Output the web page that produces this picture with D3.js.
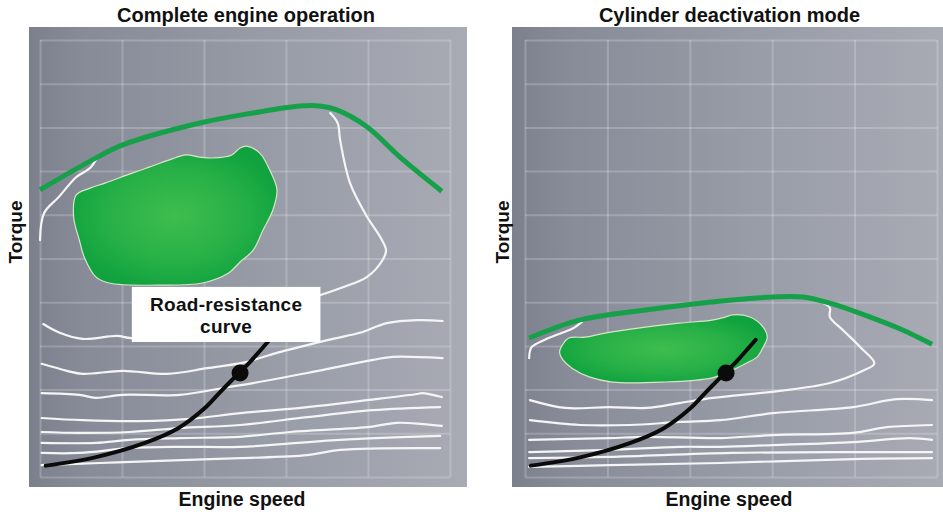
<!DOCTYPE html>
<html><head><meta charset="utf-8">
<script src="https://cdn.jsdelivr.net/npm/d3@7"></script>
<style>body{margin:0;background:#fff}svg{display:block}</style>
</head><body><svg id="c" width="943" height="512"></svg>
<script>
// ---------- data (engine speed in grid units 0-5, torque in grid units 0-10) ----------
const speedTicks = [0, 1, 2, 3, 4, 5];
const torqueTicks = [0, 1, 2, 3, 4, 5, 6, 7, 8, 9, 10];
const panelTitles = ["Complete engine operation", "Cylinder deactivation mode"];
const xLabel = "Engine speed";
const yLabel = "Torque";
const boxLabel = ["Road-resistance", "curve"];

// full-load torque curves (green)
const fullLoadAll = [[0,6.57],[0.70,7.32],[1.01,7.60],[1.95,8.10],[2.6,8.33],[3.17,8.49],[3.41,8.49],[3.62,8.40],[3.99,8.01],[4.39,7.32],[4.90,6.54]];
const fullLoadCDA = [[0.05,3.18],[0.66,3.59],[1.46,3.82],[2.51,4.05],[3.01,4.12],[3.37,4.12],[3.70,3.98],[4.19,3.66],[4.59,3.36],[4.94,3.04]];

// best-efficiency islands (green areas)
const islandAll = [[0.44,6.45],[0.61,6.61],[0.80,6.73],[1.09,6.93],[1.33,7.09],[1.57,7.25],[1.78,7.37],[1.95,7.32],[2.10,7.30],[2.34,7.37],[2.44,7.53],[2.52,7.57],[2.68,7.41],[2.80,7.03],[2.89,6.57],[2.84,6.11],[2.72,5.65],[2.60,5.19],[2.44,4.92],[2.30,4.67],[1.98,4.44],[1.49,4.39],[0.84,4.44],[0.68,4.58],[0.54,5.03],[0.48,5.42],[0.41,5.95]];
const islandCDA = [[0.42,2.86],[0.46,3.04],[0.53,3.18],[0.73,3.20],[0.91,3.27],[1.06,3.32],[1.46,3.43],[1.87,3.52],[2.27,3.59],[2.43,3.66],[2.52,3.71],[2.73,3.66],[2.89,3.43],[2.94,3.20],[2.89,2.97],[2.82,2.75],[2.69,2.61],[2.52,2.45],[2.27,2.27],[1.66,2.17],[1.06,2.17],[0.78,2.29],[0.57,2.49],[0.46,2.68]];

// consumption contours (white) - complete engine operation
const contourAllLeft = [[0,5.42],[0.05,6.04],[0.23,6.41],[0.44,6.86],[0.54,6.98],[0.62,7.09],[0.68,7.25]];
const contourAllMain = [[0.04,3.50],[0.24,3.30],[0.52,3.16],[0.94,3.23],[1.12,3.18],[2.32,3.59],[3.41,4.16],[3.66,4.32],[3.99,4.58],[4.18,4.97],[4.22,5.19],[4.15,5.49],[3.99,5.95],[3.78,6.73],[3.66,7.71],[3.63,8.10],[3.54,8.33]];
const contourAllB = [[0.02,2.59],[0.33,2.43],[0.52,2.36],[1.01,2.43],[1.55,2.36],[2.04,2.49],[2.51,2.63],[2.89,2.84],[3.57,3.16],[3.90,3.30],[4.23,3.52],[4.60,3.59],[4.91,3.57]];
const contourAllC = [[0.02,1.92],[0.48,1.88],[0.68,1.81],[1.00,1.88],[1.70,1.88],[2.30,2.06],[2.60,2.15],[3.26,2.38],[4.06,2.68],[4.30,2.75],[4.91,2.72]];
const contourAllD = [[0.02,1.35],[0.52,1.30],[1.22,1.28],[1.83,1.33],[2.44,1.46],[3.26,1.60],[3.99,1.76],[4.60,1.90],[4.66,1.92],[4.90,1.83]];
const contourAllE = [[0.02,1.03],[0.48,1.01],[1.09,1.03],[1.70,1.12],[2.44,1.19],[3.26,1.37],[4.06,1.53],[4.88,1.60]];
const contourAllF = [[0.02,0.78],[0.68,0.78],[1.09,0.85],[1.70,0.89],[2.44,0.92],[3.05,1.03],[3.99,1.14],[4.35,1.24],[4.67,1.21],[4.90,1.17]];
const contourAllG = [[0.02,0.55],[0.48,0.55],[1.09,0.66],[1.70,0.69],[2.44,0.69],[3.66,0.85],[4.88,0.94]];
const contourAllH = [[0.02,0.27],[0.73,0.32],[1.46,0.37],[2.44,0.43],[3.26,0.50],[3.66,0.62],[4.88,0.66]];

// consumption contours (white) - cylinder deactivation mode
const contourCDALeft = [[0.05,2.72],[0.08,2.97],[0.24,3.14],[0.45,3.30],[0.59,3.41],[0.69,3.55]];
const contourCDAMain = [[0.06,1.76],[0.49,1.58],[1.02,1.60],[1.48,1.58],[1.87,1.69],[2.28,1.81],[3.09,1.97],[3.70,2.15],[4.10,2.43],[4.24,2.60],[4.07,2.97],[3.86,3.36],[3.70,3.66],[3.70,3.87],[3.62,3.98]];
const contourCDAB = [[0.06,1.30],[0.67,1.19],[1.27,1.19],[1.88,1.26],[2.37,1.30],[3.01,1.46],[3.98,1.60],[4.51,1.78],[4.94,1.76]];
const contourCDAC = [[0.05,0.85],[1.02,0.89],[1.46,0.92],[2.37,0.89],[3.01,0.96],[3.98,1.01],[4.39,1.14],[4.94,1.19]];
const contourCDAD = [[0.05,0.57],[1.02,0.62],[1.88,0.69],[2.37,0.69],[3.01,0.73],[3.98,0.80],[4.67,0.89],[4.94,0.85]];
const contourCDAE = [[0.05,0.43],[1.02,0.46],[2.51,0.55],[3.98,0.57],[4.94,0.57]];
const contourCDAF = [[0.05,0.23],[1.02,0.27],[2.37,0.32],[3.98,0.41],[4.94,0.43]];

// road-resistance curve and operating point (same in both modes)
const roadLoad = [[0.07,0.26],[0.67,0.45],[1.28,0.78],[1.68,1.11],[2.00,1.56],[2.20,1.95],[2.40,2.33],[2.56,2.63],[2.80,3.14]];
const operatingPoint = [2.44, 2.38];

// ---------- drawing ----------
const svg = d3.select("#c");
const defs = svg.append("defs");

const bg = defs.append("linearGradient").attr("id","bg").attr("x1",0).attr("x2",1).attr("y1",0).attr("y2",0);
bg.append("stop").attr("offset",0).attr("stop-color","#7c808d");
bg.append("stop").attr("offset",0.12).attr("stop-color","#878b97");
bg.append("stop").attr("offset",0.55).attr("stop-color","#989ca7");
bg.append("stop").attr("offset",1).attr("stop-color","#a8abb4");

const isl = defs.append("radialGradient").attr("id","isl").attr("cx","50%").attr("cy","50%").attr("r","55%");
isl.append("stop").attr("offset",0).attr("stop-color","#3fbd4e");
isl.append("stop").attr("offset",0.6).attr("stop-color","#27b047");
isl.append("stop").attr("offset",1).attr("stop-color","#0fa23e");

const panels = [
  { title: panelTitles[0], frame:[29,27,467,487], xr:[40,450], yr:[477,40], full: fullLoadAll, island: islandAll,
    contours:[contourAllLeft, contourAllMain, contourAllB, contourAllC, contourAllD, contourAllE, contourAllF, contourAllG, contourAllH], box:true, titleX:246, xlabX:242, ylabX:22 },
  { title: panelTitles[1], frame:[512,27,943,487], xr:[525,937], yr:[477,40], full: fullLoadCDA, island: islandCDA,
    contours:[contourCDALeft, contourCDAMain, contourCDAB, contourCDAC, contourCDAD, contourCDAE, contourCDAF], box:false, titleX:729.5, xlabX:729, ylabX:509 }
];

const font = "'Liberation Sans', Arial, Helvetica, sans-serif";

panels.forEach(p => {
  const x = d3.scaleLinear().domain([0,5]).range(p.xr);
  const y = d3.scaleLinear().domain([0,10]).range(p.yr);
  const g = svg.append("g");
  const [fx0, fy0, fx1, fy1] = p.frame;

  g.append("rect").attr("x",fx0).attr("y",fy0).attr("width",fx1-fx0).attr("height",fy1-fy0).attr("fill","url(#bg)");

  // grid via axes
  const gx = g.append("g").attr("transform",`translate(0,${y(0)})`)
    .call(d3.axisBottom(x).tickValues(speedTicks).tickSize(-(y(0)-y(10))).tickFormat(""));
  const gy = g.append("g").attr("transform",`translate(${x(0)},0)`)
    .call(d3.axisLeft(y).tickValues(torqueTicks).tickSize(-(x(5)-x(0))).tickFormat(""));
  [gx, gy].forEach(a => {
    a.select(".domain").remove();
    a.selectAll(".tick line").attr("stroke","#ffffff").attr("stroke-opacity",0.2).attr("stroke-width",2);
  });

  const line = d3.line().x(d=>x(d[0])).y(d=>y(d[1])).curve(d3.curveCatmullRom.alpha(0.5));

  // white contours
  g.selectAll("path.ct").data(p.contours).join("path").attr("class","ct")
    .attr("d", line).attr("fill","none").attr("stroke","#f5f5f5").attr("stroke-width",2.2)
    .attr("stroke-linecap","round").attr("stroke-linejoin","round");

  // full-load line
  g.append("path").datum(p.full).attr("d", line).attr("fill","none")
    .attr("stroke","#16a04a").attr("stroke-width",5).attr("stroke-linecap","butt");

  // island
  const area = d3.line().x(d=>x(d[0])).y(d=>y(d[1])).curve(d3.curveCatmullRomClosed.alpha(0.5));
  g.append("path").datum(p.island).attr("d", area).attr("fill","url(#isl)")
    .attr("stroke","#d6e6c8").attr("stroke-width",1.2);

  // road-resistance curve
  g.append("path").datum(roadLoad).attr("d", line).attr("fill","none")
    .attr("stroke","#0b0b0b").attr("stroke-width",4).attr("stroke-linecap","round");
  g.append("circle").attr("cx", x(operatingPoint[0])).attr("cy", y(operatingPoint[1])).attr("r",8.5).attr("fill","#0b0b0b");

  if (p.box) {
    const bx0 = x(1.12), bx1 = x(3.42), by0 = y(4.35), by1 = y(3.09);
    g.append("rect").attr("x",bx0).attr("y",by0).attr("width",bx1-bx0).attr("height",by1-by0).attr("fill","#ffffff");
    g.selectAll("text.bl").data(boxLabel).join("text").attr("class","bl")
      .attr("x",(bx0+bx1)/2).attr("y",(d,i)=> by0 + 24.5 + i*22)
      .attr("text-anchor","middle").attr("font-family",font).attr("font-weight","bold")
      .attr("font-size",19).attr("letter-spacing",0.3).attr("fill","#111").text(d=>d);
  }

  // titles and labels
  svg.append("text").attr("x",p.titleX).attr("y",22).attr("text-anchor","middle")
    .attr("font-family",font).attr("font-weight","bold").attr("font-size",20).attr("fill","#111").text(p.title);
  svg.append("text").attr("x",p.xlabX).attr("y",506).attr("text-anchor","middle")
    .attr("font-family",font).attr("font-weight","bold").attr("font-size",19.5).attr("fill","#111").text(xLabel);
  svg.append("text").attr("transform",`translate(${p.ylabX},232) rotate(-90)`).attr("text-anchor","middle")
    .attr("font-family",font).attr("font-weight","bold").attr("font-size",19).attr("fill","#111").text(yLabel);
});
</script></body></html>
